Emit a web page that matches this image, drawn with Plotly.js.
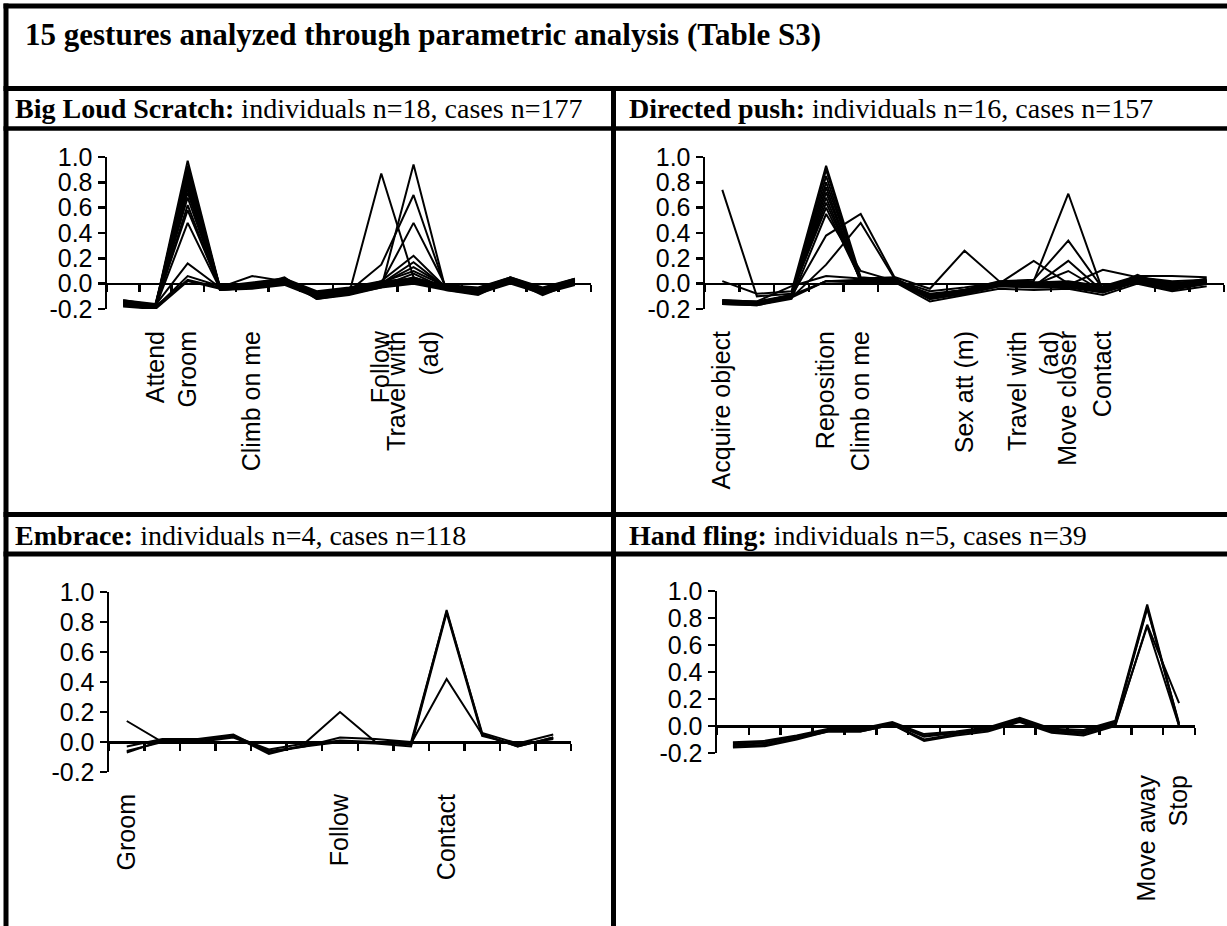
<!DOCTYPE html>
<html><head><meta charset="utf-8">
<script src="https://cdn.plot.ly/plotly-3.0.1.min.js"></script>
<style>html,body{margin:0;padding:0;background:#fff}#chart{width:1227px;height:926px}</style>
</head><body><div id="chart"></div>
<script>
// ---------- DATA ----------
const figureTitle = "15 gestures analyzed through parametric analysis (Table S3)";

const yTickVals = [-0.2, 0, 0.2, 0.4, 0.6, 0.8, 1.0];
const yTickText = ["-0.2", "0.0", "0.2", "0.4", "0.6", "0.8", "1.0"];

// Big Loud Scratch: individuals n=18, cases n=177
const scratchLabels = ["", "Attend", "Groom", "", "Climb on me", "", "", "", "Follow", "Travel with<br>(ad)", "", "", "", "", ""];
const scratchSeries = [
  [-0.15,-0.18,0.97,-0.03,-0.01,0.02,-0.08,-0.05,0.00,0.01,-0.02,-0.05,0.03,-0.05,0.02],
  [-0.16,-0.19,0.93,-0.04,-0.02,0.01,-0.09,-0.06,-0.01,0.02,-0.03,-0.06,0.02,-0.06,0.01],
  [-0.14,-0.17,0.90,-0.03,0.00,0.03,-0.07,-0.04,0.01,0.03,-0.02,-0.04,0.04,-0.04,0.03],
  [-0.17,-0.19,0.88,-0.05,-0.03,0.00,-0.10,-0.07,-0.02,0.01,-0.04,-0.07,0.01,-0.07,0.00],
  [-0.15,-0.18,0.85,-0.04,-0.01,0.02,-0.08,-0.05,0.00,0.02,-0.03,-0.05,0.03,-0.05,0.02],
  [-0.18,-0.20,0.82,-0.05,-0.04,-0.01,-0.11,-0.08,-0.03,0.00,-0.05,-0.08,0.00,-0.08,-0.01],
  [-0.13,-0.16,0.80,-0.02,0.01,0.04,-0.06,-0.03,0.02,0.04,-0.01,-0.03,0.05,-0.03,0.04],
  [-0.16,-0.18,0.78,-0.04,-0.02,0.01,-0.09,-0.06,-0.01,0.05,-0.03,-0.06,0.02,-0.06,0.01],
  [-0.17,-0.19,0.75,-0.05,-0.03,0.01,-0.10,-0.07,-0.02,0.08,-0.04,-0.07,0.01,-0.07,0.00],
  [-0.14,-0.17,0.72,-0.03,0.00,0.03,-0.07,-0.04,0.01,0.10,-0.02,-0.04,0.04,-0.04,0.03],
  [-0.15,-0.18,0.68,-0.04,-0.01,0.02,-0.08,-0.05,0.00,0.13,-0.02,-0.05,0.03,-0.05,0.02],
  [-0.16,-0.19,0.62,-0.04,-0.02,0.01,-0.09,-0.06,0.00,0.17,-0.03,-0.06,0.02,-0.06,0.01],
  [-0.14,-0.18,0.58,-0.03,-0.01,0.02,-0.08,-0.05,0.01,0.03,-0.02,-0.05,0.03,-0.05,0.02],
  [-0.15,-0.19,0.48,-0.04,-0.02,0.03,-0.09,-0.06,0.02,0.22,-0.03,-0.06,0.04,-0.06,0.03],
  [-0.13,-0.17,0.16,-0.03,0.06,0.02,-0.07,-0.04,0.00,0.48,-0.02,-0.04,0.05,-0.04,0.04],
  [-0.16,-0.19,0.06,-0.02,0.00,0.04,-0.10,-0.06,0.15,0.70,-0.04,-0.07,0.02,-0.07,0.01],
  [-0.15,-0.18,0.03,-0.03,-0.02,0.05,-0.12,-0.08,0.87,0.05,-0.03,-0.08,0.04,-0.08,0.02],
  [-0.17,-0.20,0.02,-0.04,-0.03,0.03,-0.12,-0.09,-0.03,0.94,-0.05,-0.09,0.03,-0.09,0.01]
];

// Directed push: individuals n=16, cases n=157
const pushLabels = ["Acquire object", "", "", "Reposition", "Climb on me", "", "", "Sex att (m)", "", "Travel with<br>(ad)", "Move closer", "Contact", "", "", ""];
const pushSeries = [
  [0.74,-0.10,-0.08,0.60,0.03,0.02,-0.08,-0.05,0.00,0.00,0.01,-0.04,0.04,0.00,0.02],
  [0.02,-0.08,-0.06,0.93,0.05,0.03,-0.06,-0.03,0.01,0.01,0.00,-0.03,0.05,0.02,0.03],
  [-0.14,-0.15,-0.10,0.90,0.03,0.02,-0.10,-0.06,0.00,-0.01,-0.01,-0.05,0.03,-0.02,0.01],
  [-0.15,-0.16,-0.11,0.85,0.02,0.01,-0.11,-0.07,-0.01,-0.02,-0.02,-0.06,0.02,-0.03,0.00],
  [-0.13,-0.14,-0.09,0.80,0.04,0.03,-0.09,-0.05,0.01,0.00,0.00,-0.04,0.04,-0.01,0.02],
  [-0.16,-0.16,-0.11,0.76,0.01,0.02,-0.12,-0.08,-0.02,-0.02,-0.02,-0.07,0.02,-0.04,0.00],
  [-0.14,-0.15,-0.10,0.72,0.03,0.04,-0.10,-0.06,0.00,0.18,0.00,-0.05,0.03,-0.02,0.01],
  [-0.15,-0.16,-0.10,0.68,0.02,0.02,-0.11,-0.07,-0.01,-0.01,0.10,-0.06,0.02,-0.03,0.01],
  [-0.13,-0.15,-0.09,0.64,0.03,0.03,-0.09,-0.05,0.00,0.00,-0.01,0.11,0.05,0.01,0.02],
  [-0.16,-0.17,-0.12,0.55,0.10,0.02,-0.12,-0.08,-0.02,-0.03,-0.03,-0.07,0.01,-0.05,0.00],
  [-0.14,-0.15,-0.10,0.38,0.55,0.04,-0.10,-0.06,0.00,-0.01,0.00,-0.05,0.04,-0.02,0.02],
  [-0.15,-0.16,-0.11,0.15,0.48,0.03,-0.11,-0.07,-0.01,-0.02,0.18,-0.06,0.03,-0.03,0.01],
  [-0.13,-0.14,-0.02,0.06,0.04,0.05,-0.04,0.26,0.02,0.01,0.02,-0.02,0.06,0.06,0.05],
  [-0.15,-0.16,-0.10,0.02,0.03,0.02,-0.11,-0.07,0.01,0.02,0.71,-0.06,0.07,-0.04,0.03],
  [-0.14,-0.15,-0.09,0.02,0.02,0.03,-0.09,-0.05,0.02,0.03,0.34,-0.04,0.05,-0.01,0.04],
  [-0.16,-0.17,-0.11,0.02,0.01,0.01,-0.14,-0.09,-0.04,-0.05,-0.04,-0.09,0.00,-0.06,-0.02]
];

// Embrace: individuals n=4, cases n=118
const embraceLabels = ["Groom", "", "", "", "", "", "Follow", "", "", "Contact", "", "", ""];
const embraceSeries = [
  [0.14,0.00,0.01,0.04,-0.05,-0.01,0.20,0.00,-0.01,0.42,0.05,-0.03,0.03],
  [-0.03,0.02,0.02,0.05,-0.07,-0.03,0.03,0.02,0.00,0.87,0.06,-0.01,0.05],
  [-0.07,0.01,0.01,0.04,-0.08,-0.02,0.01,0.00,-0.02,0.88,0.05,-0.03,0.03],
  [-0.06,0.00,0.00,0.03,-0.06,-0.03,0.00,-0.01,-0.03,0.86,0.04,-0.02,0.02]
];

// Hand fling: individuals n=5, cases n=39
const flingLabels = ["", "", "", "", "", "", "", "", "", "", "", "", "", "Move away", "Stop"];
const flingSeries = [
  [-0.12,-0.11,-0.07,-0.02,-0.02,0.03,-0.06,-0.04,-0.01,0.06,-0.02,-0.03,0.04,0.90,0.01],
  [-0.13,-0.12,-0.08,-0.03,-0.03,0.02,-0.07,-0.05,-0.02,0.05,-0.03,-0.04,0.03,0.88,0.00],
  [-0.14,-0.13,-0.08,-0.03,-0.03,0.02,-0.08,-0.05,-0.02,0.04,-0.03,-0.05,0.02,0.87,0.02],
  [-0.16,-0.15,-0.10,-0.04,-0.04,0.01,-0.11,-0.07,-0.04,0.03,-0.05,-0.07,0.00,0.75,0.17],
  [-0.15,-0.14,-0.09,-0.04,-0.04,0.01,-0.10,-0.06,-0.03,0.04,-0.04,-0.06,0.01,0.74,0.00]
];

const headers = [
  "<b>Big Loud Scratch:</b> individuals n=18, cases n=177",
  "<b>Directed push:</b> individuals n=16, cases n=157",
  "<b>Embrace:</b> individuals n=4, cases n=118",
  "<b>Hand fling:</b> individuals n=5, cases n=39"
];

// ---------- LAYOUT (pixel geometry) ----------
const W = 1227, H = 926;
const fx = p => p / W;
const fy = p => 1 - p / H;

const panels = [
  {labels: scratchLabels, series: scratchSeries, box: {x0: 107, x1: 591, yt: 157, yb: 309}, head: {x: 13, y: 108}},
  {labels: pushLabels,    series: pushSeries,    box: {x0: 705, x1: 1224, yt: 157, yb: 309}, head: {x: 627, y: 108}},
  {labels: embraceLabels, series: embraceSeries, box: {x0: 109, x1: 571, yt: 592, yb: 772}, head: {x: 13, y: 535}},
  {labels: flingLabels,   series: flingSeries,   box: {x0: 717, x1: 1195, yt: 591, yb: 753}, head: {x: 627, y: 535}}
];

const serif = "Liberation Serif, Times New Roman, serif";
const axisFont = {family: "Liberation Sans, Arial, sans-serif", size: 25, color: "#000"};
const traces = [];
const layout = {
  width: W, height: H,
  margin: {l: 0, r: 0, t: 0, b: 0},
  paper_bgcolor: "#fff", plot_bgcolor: "rgba(0,0,0,0)",
  showlegend: false,
  title: {
    text: "<b>" + figureTitle + "</b>",
    x: fx(25), xanchor: "left", xref: "paper",
    y: fy(34), yanchor: "middle", yref: "paper",
    font: {family: serif, size: 31, color: "#000"}
  },
  annotations: [],
  shapes: []
};

panels.forEach((p, i) => {
  const s = i === 0 ? "" : String(i + 1);
  const zs = String(i + 5);
  const n = p.labels.length;
  const idx = p.labels.map((_, k) => k);
  const bounds = idx.map(k => k - 0.5).concat([n - 0.5]);
  const dx = [fx(p.box.x0), fx(p.box.x1)];
  const dy = [fy(p.box.yb), fy(p.box.yt)];
  const zeroPx = p.box.yb - (0 - (-0.2)) / 1.2 * (p.box.yb - p.box.yt);

  p.series.forEach(row => {
    traces.push({
      x: idx, y: row, xaxis: "x" + s, yaxis: "y" + s,
      type: "scatter", mode: "lines",
      line: {color: "#000", width: 2},
      hoverinfo: "skip", showlegend: false
    });
  });
  traces.push({x: [], y: [], xaxis: "x" + zs, yaxis: "y" + s, type: "scatter", mode: "lines", showlegend: false});

  layout["xaxis" + s] = {
    domain: dx, anchor: "y" + s, range: [-0.5, n - 0.5],
    tickmode: "array", tickvals: idx, ticktext: p.labels,
    tickangle: -90, ticks: "outside", ticklen: 11, tickcolor: "rgba(0,0,0,0)",
    showline: false, showgrid: false, zeroline: false,
    tickfont: axisFont, fixedrange: true
  };
  layout["xaxis" + zs] = {
    overlaying: "x" + s, anchor: "free", position: fy(zeroPx),
    range: [-0.5, n - 0.5], side: "bottom",
    tickmode: "array", tickvals: bounds, showticklabels: false,
    ticks: "outside", ticklen: 7, tickwidth: 2.5, tickcolor: "#000",
    showline: true, linewidth: 2.5, linecolor: "#000",
    showgrid: false, zeroline: false, fixedrange: true
  };
  layout["yaxis" + s] = {
    domain: dy, anchor: "x" + s, range: [-0.2, 1.0],
    tickmode: "array", tickvals: yTickVals, ticktext: yTickText,
    ticks: "outside", ticklen: 7, tickwidth: 2.5, tickcolor: "#000",
    showline: true, linewidth: 2.5, linecolor: "#000",
    showgrid: false, zeroline: false, tickfont: axisFont, fixedrange: true
  };
  layout.annotations.push({
    text: headers[i], xref: "paper", yref: "paper",
    x: fx(p.head.x), y: fy(p.head.y), xanchor: "left", yanchor: "middle",
    showarrow: false,
    font: {family: serif, size: 28, color: "#000"}
  });
});

// frame lines (pixel positions -> paper)
const hLine = (y, x0, x1, w) => ({type: "line", xref: "paper", yref: "paper", x0: fx(x0), x1: fx(x1), y0: fy(y), y1: fy(y), line: {color: "#000", width: w}});
const vLine = (x, y0, y1, w) => ({type: "line", xref: "paper", yref: "paper", x0: fx(x), x1: fx(x), y0: fy(y0), y1: fy(y1), line: {color: "#000", width: w}});
layout.shapes.push(
  vLine(6, 3.5, H, 5),
  hLine(6, 3.5, W, 5),
  hLine(88.5, 3.5, W, 5),
  hLine(128.5, 3.5, W, 4.5),
  vLine(613.5, 88.5, H, 5),
  hLine(514.5, 3.5, W, 5),
  hLine(554, 3.5, W, 5)
);

Plotly.newPlot("chart", traces, layout, {staticPlot: true, displayModeBar: false});
</script>
</body></html>
